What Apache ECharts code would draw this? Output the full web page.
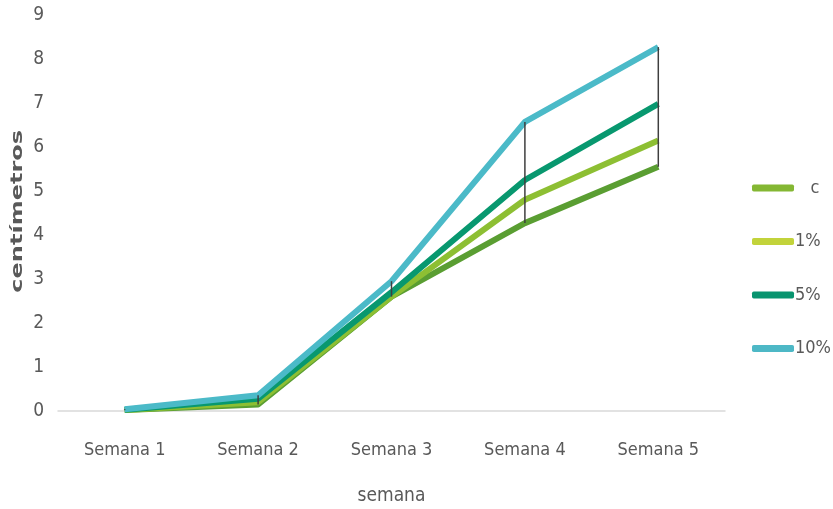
<!DOCTYPE html>
<html><head><meta charset="utf-8">
<script src="https://cdn.jsdelivr.net/npm/echarts@6/dist/echarts.min.js"></script>
<style>html,body{margin:0;padding:0;background:#fff}#c{width:833px;height:509px}</style>
</head><body><div id="c"></div>
<script>
const categories = ['Semana 1','Semana 2','Semana 3','Semana 4','Semana 5'];
const seriesNames = ['c','1%','5%','10%'];
const valuesC   = [0.02, 0.15, 2.6, 4.27, 5.55];
const values1   = [0.02, 0.20, 2.6, 4.80, 6.15];
const values5   = [0.03, 0.28, 2.7, 5.25, 6.98];
const values10  = [0.04, 0.36, 2.95, 6.57, 8.27];
const yTicks = [0,1,2,3,4,5,6,7,8,9];
const lineColors   = ['#5a9e32','#8dbf33','#08986f','#4bbac8'];
const legendColors = ['#84b733','#c2d33b','#08946f','#4db8c6'];

const all = [valuesC, values1, values5, values10];
const hiLo = categories.map((c,i)=>{
  const vs = all.map(a=>a[i]);
  return [i, Math.min(...vs), Math.max(...vs)];
});
const font = '"Liberation Sans Narrow","DejaVu Sans Condensed","Liberation Sans",sans-serif';
const chart = echarts.init(document.getElementById('c'), null, {renderer:'canvas'});
chart.setOption({
  animation:false,
  grid:{left:58,right:108,top:15,bottom:98,outerBoundsMode:'none',containLabel:false},
  legend:{
    orient:'vertical', right:-3, top:174, itemGap:35.5, itemWidth:42, itemHeight:7,
    icon:'roundRect',
    textStyle:{color:'#595959',fontSize:18,fontFamily:font,padding:[0,0,0,-4]},
    formatter:n=> n==='c' ? '   c' : n,
    data: seriesNames.map((n,i)=>({name:n,itemStyle:{color:legendColors[i]}}))
  },
  xAxis:{
    type:'category', data:categories, boundaryGap:true,
    name:'semana', nameLocation:'middle', nameGap:76,
    nameTextStyle:{color:'#595959',fontSize:19,fontFamily:font},
    axisLine:{lineStyle:{color:'#d9d9d9',width:1.5}},
    axisTick:{show:false},
    axisLabel:{color:'#595959',fontSize:18,fontFamily:font,margin:30}
  },
  yAxis:{
    type:'value', min:yTicks[0], max:yTicks[yTicks.length-1], interval:1,
    axisLine:{show:false}, axisTick:{show:false}, splitLine:{show:false},
    axisLabel:{color:'#595959',fontSize:19,fontFamily:font,margin:14}
  },
  graphic:[{
    type:'text', left:11, top:130, rotation:Math.PI/2, scaleX:1.6,
    style:{text:'centímetros', fill:'#595959', font:'bold 15px "DejaVu Sans",sans-serif'}
  }],
  series:[
    ...seriesNames.map((n,i)=>({
      name:n, type:'line', data:all[i], showSymbol:false, symbol:'none',
      lineStyle:{color:lineColors[i], width:6, cap:'butt', join:'round'},
      itemStyle:{color:lineColors[i]}, z:2+i
    })),
    {
      type:'custom', name:'hilo', z:10, data:hiLo,
      renderItem:(params,api)=>{
        const p1 = api.coord([api.value(0), api.value(1)]);
        const p2 = api.coord([api.value(0), api.value(2)]);
        return {type:'line', shape:{x1:p1[0],y1:p1[1],x2:p2[0],y2:p2[1]},
          style:{stroke:'#3f3f3f',lineWidth:1.5}};
      }
    }
  ]
});
</script></body></html>
